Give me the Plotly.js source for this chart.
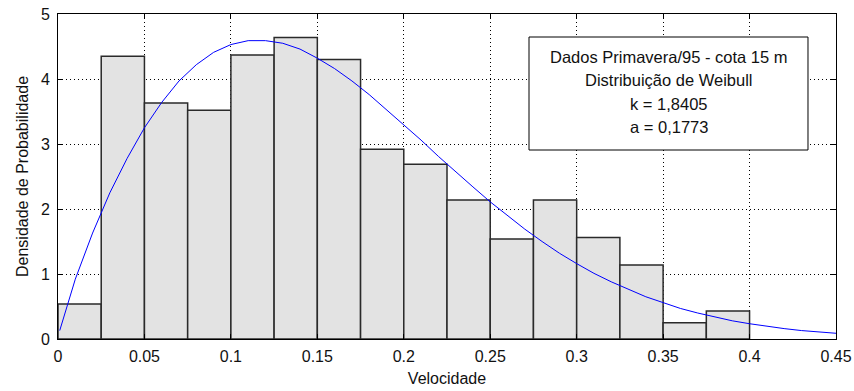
<!DOCTYPE html>
<html>
<head>
<meta charset="utf-8">
<script src="https://cdn.plot.ly/plotly-3.0.1.min.js"></script>
<style>html,body{margin:0;padding:0;background:#fff;}#chart{width:854px;height:391px;}</style>
</head>
<body>
<div id="chart"></div>
<script>
// Histogram bins (centers, width 0.025) and densities
const binCenters = [0.0125, 0.0375, 0.0625, 0.0875, 0.1125, 0.1375, 0.1625, 0.1875,
                    0.2125, 0.2375, 0.2625, 0.2875, 0.3125, 0.3375, 0.3625, 0.3875];
const binWidth = 0.025;
const density = [0.54, 4.35, 3.63, 3.52, 4.37, 4.64, 4.30, 2.92,
                 2.69, 2.14, 1.54, 2.14, 1.56, 1.14, 0.25, 0.43];

// Fitted Weibull curve
const curveX = [0.001, 0.01, 0.02, 0.03, 0.04, 0.05, 0.06, 0.07, 0.08, 0.09, 0.10,
                0.11, 0.12, 0.13, 0.14, 0.15, 0.16, 0.17, 0.18, 0.19, 0.20,
                0.21, 0.22, 0.23, 0.24, 0.25, 0.26, 0.27, 0.28, 0.29, 0.30,
                0.31, 0.32, 0.33, 0.34, 0.35, 0.36, 0.37, 0.38, 0.39, 0.40,
                0.41, 0.42, 0.43, 0.44, 0.45];
const curveY = [0.13, 0.92, 1.63, 2.25, 2.78, 3.25, 3.64, 3.97, 4.22, 4.41, 4.53,
                4.59, 4.59, 4.55, 4.46, 4.32, 4.16, 3.97, 3.76, 3.53, 3.30,
                3.06, 2.81, 2.57, 2.34, 2.11, 1.90, 1.69, 1.50, 1.32, 1.16,
                1.01, 0.88, 0.76, 0.65, 0.56, 0.47, 0.40, 0.34, 0.28, 0.235,
                0.195, 0.16, 0.13, 0.11, 0.088];

const xTicks = [0, 0.05, 0.1, 0.15, 0.2, 0.25, 0.3, 0.35, 0.4, 0.45];
const yTicks = [0, 1, 2, 3, 4, 5];
const boxLines = ["Dados Primavera/95 - cota 15 m", "Distribuição de Weibull", "k = 1,8405", "a = 0,1773"];

const FONT = "Liberation Sans, Arial, sans-serif";
const TXT = '#111';

const traces = [
  {
    type: 'bar', x: binCenters, y: density, width: binCenters.map(() => binWidth),
    marker: {color: '#e3e3e3', line: {color: '#2a2a2a', width: 1.5}},
    hoverinfo: 'x+y'
  },
  {
    type: 'scatter', mode: 'lines', x: curveX, y: curveY,
    line: {color: '#0000ff', width: 1}
  }
];

const lineYs = [0.8677, 0.7969, 0.7246, 0.6523];
const annotations = boxLines.map((t, i) => ({
  text: t, xref: 'paper', yref: 'paper', x: 0.7853, y: lineYs[i],
  xanchor: 'center', yanchor: 'middle', showarrow: false,
  font: {family: FONT, size: 16.5, color: TXT}
}));

const layout = {
  width: 854, height: 391,
  margin: {l: 58, r: 18, t: 14, b: 52},
  paper_bgcolor: '#fff', plot_bgcolor: '#fff',
  showlegend: false,
  bargap: 0,
  font: {family: FONT, size: 16, color: TXT},
  xaxis: {
    range: [0, 0.45], tickvals: xTicks, ticktext: xTicks.map(String),
    ticks: 'inside', ticklen: 5, tickcolor: '#000', tickwidth: 1,
    showline: true, linecolor: '#000', linewidth: 1, mirror: 'ticks',
    showgrid: true, gridcolor: '#000', gridwidth: 1, griddash: '1px,3px',
    zeroline: false, ticklabelstandoff: 3,
    tickfont: {family: FONT, size: 16, color: TXT},
    title: {text: 'Velocidade', font: {family: FONT, size: 16, color: TXT}, standoff: 8}
  },
  yaxis: {
    range: [0, 5], tickvals: yTicks, ticktext: yTicks.map(String),
    ticks: 'inside', ticklen: 5, tickcolor: '#000', tickwidth: 1,
    showline: true, linecolor: '#000', linewidth: 1, mirror: 'ticks',
    showgrid: true, gridcolor: '#000', gridwidth: 1, griddash: '1px,3px',
    zeroline: false, ticklabelstandoff: 4,
    tickfont: {family: FONT, size: 16, color: TXT},
    title: {text: 'Densidade de Probabilidade', font: {family: FONT, size: 16, color: TXT}, standoff: 8}
  },
  shapes: [{
    type: 'rect', xref: 'paper', yref: 'paper',
    x0: 0.6054, x1: 0.9640, y0: 0.5815, y1: 0.9292,
    line: {color: '#000', width: 1}, fillcolor: '#fff', layer: 'above'
  }],
  annotations: annotations
};

Plotly.newPlot('chart', traces, layout, {displayModeBar: false, staticPlot: true});
</script>
</body>
</html>
